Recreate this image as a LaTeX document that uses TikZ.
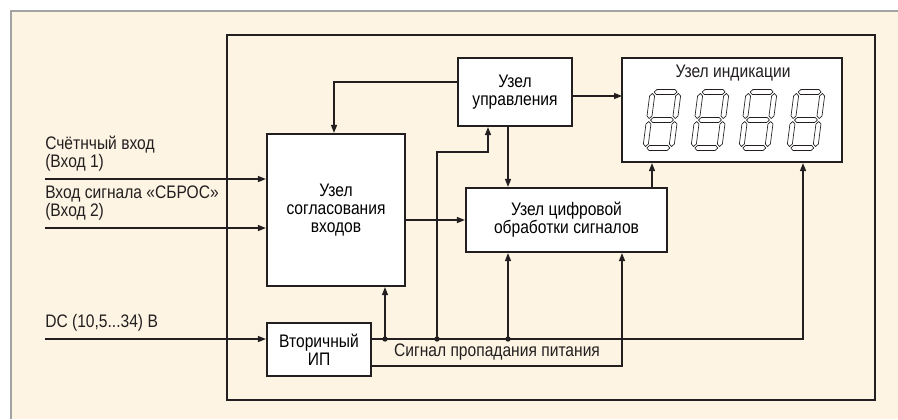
\documentclass[tikz,border=0pt]{standalone}
\usepackage{fontspec}
\setmainfont{Liberation Sans}[FakeStretch=0.86]
\usetikzlibrary{arrows.meta}

\definecolor{paper}{HTML}{FDF4E3}
\definecolor{rim}{HTML}{A3A3A3}
\definecolor{ink}{HTML}{231F20}

% one segment of the indicator, horizontal or vertical
\newcommand{\hseg}[1]{%
  \draw[seg] (4.5,#1) -- (7,#1-2.5) -- (25,#1-2.5) -- (27.5,#1) -- (25,#1+2.5) -- (7,#1+2.5) -- cycle;}
\newcommand{\vseg}[3]{%
  \draw[seg] (#1,#2+1.5) -- (#1+2.5,#2+4) -- (#1+2.5,#3-4) -- (#1,#3-1.5) -- (#1-2.5,#3-4) -- (#1-2.5,#2+4) -- cycle;}

\tikzset{
  block/.style={draw=ink, line width=1.6pt, fill=white, align=center,
    inner sep=2pt, font=\fontsize{13.6}{13.5}\selectfont},
  wire/.style={draw=ink, line width=0.9pt},
  arr/.style={wire, -{Triangle[length=6pt,width=4.5pt]}},
  dot/.style={circle, fill=ink, inner sep=0pt, minimum size=4pt},
  seg/.style={draw=ink, line width=0.5pt, line join=round},
  lbl/.style={align=left, inner sep=0pt, text=ink,
    font=\fontsize{13.6}{14}\selectfont},
}

\begin{document}
\begin{tikzpicture}[x=0.75pt, y=-0.75pt]
  \useasboundingbox (0,0) rectangle (898,419);
  \fill[paper] (11,11) rectangle (898,419);
  \draw[rim, line width=2.2pt] (11,419) -- (11,11) -- (898,11);

  % device enclosure
  \draw[ink, line width=1.6pt] (227,35) rectangle (875,400);

  % blocks
  \node[block, minimum width=103.5pt, minimum height=114pt] (match) at (336,210)
    {Узел\\согласования\\входов};
  \node[block, minimum width=85.5pt, minimum height=51pt] (ctrl) at (515,92)
    {Узел\\управления};
  \node[block, minimum width=165pt, minimum height=78pt] (disp) at (732,110) {};
  \node[block, minimum width=150.75pt, minimum height=48pt] (dsp) at (566.5,220)
    {Узел цифровой\\обработки сигналов};
  \node[block, minimum width=78pt, minimum height=39.75pt] (psu) at (319,349.5)
    {Вторичный\\ИП};

  \node[lbl] (disptitle) at (733,73) {Узел индикации};

  % seven-segment digits
  \foreach \dx in {0,48,96,144} {
    \begin{scope}[shift={(650+\dx,89)}, xslant=0.13]
      \hseg{3} \hseg{31} \hseg{59}
      \vseg{3}{3}{31} \vseg{3}{31}{59}
      \vseg{29}{3}{31} \vseg{29}{31}{59}
    \end{scope}
  }

  % inputs
  \coordinate (in1) at (45,179);
  \coordinate (in2) at (45,228);
  \coordinate (in3) at (45,339);
  \node[lbl, anchor=south west] (in1t) at (45,172) {Счётнчый вход\\(Вход 1)};
  \node[lbl, anchor=south west] (in2t) at (45,221) {Вход сигнала «СБРОС»\\(Вход 2)};
  \node[lbl, anchor=south west] (in3t) at (45,332) {DC (10,5...34) В};
  \draw[arr] (in1) -- (in1 -| match.west);
  \draw[arr] (in2) -- (in2 -| match.west);
  \draw[arr] (in3) -- (in3 -| psu.west);

  % signal paths
  \coordinate (f1) at (334,82);
  \coordinate (a1) at (622,96);
  \coordinate (u1) at (652,188);
  \draw[arr] (ctrl.west |- f1) -- (f1) -- (f1 |- match.north);
  \draw[arr] (ctrl.east |- a1) -- (a1);
  \draw[arr] (match.east |- dsp.west) -- (dsp.west);
  \draw[arr] (u1) -- (u1 |- disp.south);

  % supply bus
  \coordinate (j1) at (385,339);
  \coordinate (j2) at (437,339);
  \coordinate (j3) at (508,339);
  \coordinate (b4) at (803,339);
  \coordinate (t1) at (488,152);
  \coordinate (s1) at (622,366);
  \draw[arr] (j3 |- ctrl.south) -- (j3 |- dsp.north);
  \draw[arr] (psu.east |- j1) -- (b4) -- (b4 |- disp.south);
  \draw[arr] (j1) -- (j1 |- match.south);
  \draw[arr] (j2) |- (t1) -- (t1 |- ctrl.south);
  \draw[arr] (j3) -- (j3 |- dsp.south);
  \draw[arr] (psu.east |- s1) -- node[lbl, above=4pt] (fail) {Сигнал пропадания питания}
    (s1) -- (s1 |- dsp.south);
  \foreach \j in {j1,j2,j3}
    \node[dot] at (\j) {};
\end{tikzpicture}
\end{document}
